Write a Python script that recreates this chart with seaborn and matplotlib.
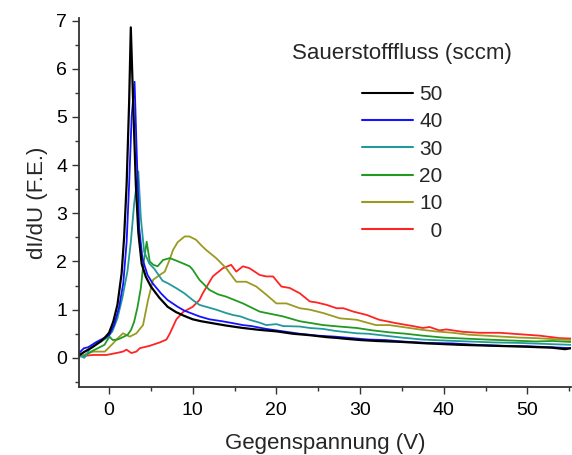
import numpy as np
import pandas as pd
import matplotlib
matplotlib.use("Agg")
import matplotlib.pyplot as plt
import seaborn as sns

# Differential current curves dI/dU versus retarding voltage for each oxygen flow
flows = ["50", "40", "30", "20", "10", "0"]
flow_labels = ["50", "40", "30", "20", "10", "  0"]
colors = ["#000000", "#1414ff", "#229a9a", "#229a22", "#9a9a22", "#ff2424"]

u_50 = [-3.6, -3.0, -2.0, -1.0, -0.5, 0.0, 0.5, 1.0, 1.5, 1.8, 2.1, 2.4, 2.6, 2.9, 3.2, 3.5, 3.9,
        4.4, 5.0, 6.0, 7.0, 8.0, 9.0, 10.0, 11.0, 12.0, 13.0, 14.0, 16.0, 18.0, 20.0, 22.0, 24.0,
        26.0, 27.5, 28.0, 30.0, 32.0, 35.0, 38.0, 42.0, 46.0, 50.0, 53.0, 54.5, 55.2]
i_50 = [0.05, 0.12, 0.22, 0.34, 0.42, 0.52, 0.75, 1.1, 1.75, 2.5, 3.6, 5.3, 6.86, 5.2, 3.6, 2.6, 1.95,
        1.68, 1.48, 1.25, 1.06, 0.95, 0.87, 0.8, 0.76, 0.73, 0.7, 0.67, 0.62, 0.58, 0.55, 0.5, 0.47,
        0.43, 0.41, 0.4, 0.37, 0.35, 0.33, 0.3, 0.27, 0.25, 0.23, 0.21, 0.18, 0.2]

u_40 = [-3.6, -3.0, -2.5, -1.5, -0.5, 0.0, 0.6, 1.2, 1.7, 2.1, 2.4, 2.7, 3.05, 3.3, 3.6, 4.0,
        4.6, 5.2, 6.2, 7.0, 8.2, 9.0, 10.8, 12.0, 13.5, 14.8, 16.0, 17.0, 18.8, 20.0, 22.8, 25.0,
        27.0, 29.0, 31.0, 33.0, 35.0, 38.0, 41.0, 44.0, 47.0, 50.0, 53.0, 55.2]
i_40 = [0.1, 0.2, 0.22, 0.33, 0.42, 0.47, 0.68, 1.05, 1.55, 2.4, 3.6, 5.0, 5.73, 4.3, 2.7, 2.05,
        1.72, 1.55, 1.34, 1.2, 1.06, 0.98, 0.86, 0.8, 0.76, 0.72, 0.68, 0.66, 0.6, 0.57, 0.5, 0.46,
        0.44, 0.41, 0.38, 0.37, 0.34, 0.31, 0.3, 0.27, 0.25, 0.24, 0.22, 0.2]

u_30 = [-3.6, -2.95, -2.35, -1.75, -0.95, -0.2, 0.4, 1.0, 1.6, 2.2, 2.6, 3.0, 3.5, 3.8, 4.2,
        4.8, 5.4, 6.4, 7.0, 8.0, 9.0, 10.0, 10.8, 12.0, 12.8, 14.0, 14.8, 15.7, 16.8, 18.0, 18.8,
        20.0, 20.8, 22.8, 24.0, 25.6, 27.0, 29.6, 31.0, 33.5, 35.0, 37.5, 40.0, 43.0, 46.0, 49.0,
        52.0, 55.2]
i_30 = [0.06, 0.0, 0.17, 0.3, 0.34, 0.42, 0.55, 0.82, 1.25, 1.8, 2.4, 3.2, 3.87, 2.9, 2.2,
        1.96, 1.85, 1.6, 1.55, 1.45, 1.34, 1.2, 1.1, 1.04, 1.0, 0.93, 0.89, 0.86, 0.79, 0.73, 0.68,
        0.7, 0.66, 0.65, 0.62, 0.6, 0.56, 0.51, 0.5, 0.45, 0.42, 0.38, 0.36, 0.34, 0.32, 0.31,
        0.29, 0.27]

u_20 = [-3.6, -2.94, -2.15, -1.35, -0.55, 0.05, 0.44, 1.0, 1.43, 2.23, 2.63, 3.0, 3.4, 3.8,
        4.1, 4.5, 4.86, 5.3, 5.8, 6.45, 7.25, 8.0, 8.84, 9.64, 10.0, 10.8, 12.0, 13.0, 14.0,
        15.0, 16.0, 18.0, 20.8, 22.8, 25.6, 27.5, 29.6, 31.5, 33.5, 35.5, 37.5, 40.0, 42.5, 45.1,
        48.0, 51.0, 53.0, 55.2]
i_20 = [0.03, 0.03, 0.13, 0.2, 0.27, 0.44, 0.37, 0.38, 0.41, 0.48, 0.58, 0.75, 1.05, 1.45,
        1.95, 2.41, 2.0, 1.93, 1.9, 2.03, 2.07, 2.02, 1.96, 1.9, 1.83, 1.62, 1.41, 1.32, 1.27,
        1.2, 1.13, 0.96, 0.86, 0.76, 0.68, 0.65, 0.62, 0.57, 0.53, 0.5, 0.46, 0.42, 0.4, 0.38,
        0.36, 0.34, 0.35, 0.33]

u_10 = [-3.6, -1.9, -0.5, 0.48, 1.0, 1.67, 2.47, 3.27, 4.06, 4.66, 5.26, 6.06, 6.66, 7.2,
        7.65, 8.2, 9.04, 9.6, 10.4, 11.0, 11.6, 12.8, 14.0, 15.2, 16.4, 17.6, 18.8, 20.0, 21.2,
        22.8, 24.0, 25.6, 27.6, 29.6, 31.9, 33.5, 35.5, 37.5, 39.0, 41.1, 43.0, 45.1, 47.0, 49.1,
        51.0, 53.0, 55.2]
i_10 = [0.03, 0.13, 0.13, 0.3, 0.4, 0.51, 0.44, 0.51, 0.68, 1.2, 1.62, 1.72, 1.79, 2.02,
        2.24, 2.4, 2.52, 2.52, 2.45, 2.34, 2.24, 2.07, 1.86, 1.58, 1.58, 1.48, 1.31, 1.13, 1.13,
        1.03, 1.0, 0.93, 0.82, 0.79, 0.68, 0.68, 0.63, 0.58, 0.55, 0.52, 0.48, 0.46, 0.44, 0.42,
        0.41, 0.39, 0.37]

u_0 = [-3.6, -1.9, -0.3, 0.88, 1.67, 2.08, 2.67, 3.27, 3.67, 4.86, 6.06, 6.86, 7.25, 7.65,
       8.05, 8.84, 10.0, 10.8, 11.2, 12.4, 13.6, 14.6, 15.2, 16.0, 16.8, 18.0, 18.8, 19.6, 20.6,
       21.6, 22.8, 24.0, 24.8, 26.0, 27.2, 28.0, 29.2, 30.8, 32.3, 34.3, 36.3, 37.5, 38.3, 39.5,
       40.3, 42.3, 44.3, 46.7, 49.1, 51.5, 53.8, 55.2]
i_0 = [0.03, 0.06, 0.06, 0.1, 0.13, 0.17, 0.1, 0.13, 0.2, 0.25, 0.32, 0.38, 0.5, 0.65,
       0.8, 0.95, 1.06, 1.2, 1.34, 1.69, 1.86, 1.93, 1.79, 1.9, 1.86, 1.72, 1.69, 1.69, 1.48,
       1.45, 1.34, 1.17, 1.15, 1.1, 1.03, 1.03, 0.96, 0.89, 0.79, 0.72, 0.66, 0.62, 0.64, 0.57,
       0.59, 0.54, 0.52, 0.52, 0.49, 0.46, 0.41, 0.4]

series = {
    "50": (u_50, i_50), "40": (u_40, i_40), "30": (u_30, i_30),
    "20": (u_20, i_20), "10": (u_10, i_10), "0": (u_0, i_0),
}
frames = []
for flow in flows:
    u, i = series[flow]
    frames.append(pd.DataFrame({"U": u, "dIdU": i, "flow": flow}))
df = pd.concat(frames, ignore_index=True)

sns.set_theme(style="ticks")
plt.rcParams["font.family"] = ["Liberation Sans", "DejaVu Sans"]

fig = plt.figure(figsize=(5.72, 4.55), dpi=100)
ax = fig.add_axes([0.138, 0.15, 0.860, 0.81])

# draw reverse order so the black curve sits on top
sns.lineplot(data=df, x="U", y="dIdU", hue="flow", hue_order=flows[::-1],
             palette=dict(zip(flows, colors)), sort=False, estimator=None,
             linewidth=1.3, ax=ax, legend=False)
for line in ax.get_lines():
    if line.get_color() in ("#000000", (0.0, 0.0, 0.0, 1.0)):
        line.set_linewidth(1.6)

ax.set_xlim(-3.6, 55.2)
ax.set_ylim(-0.6, 7.05)
ax.set_xticks([0, 10, 20, 30, 40, 50])
ax.set_xticks(np.arange(-0, 56, 5), minor=True)
ax.set_yticks(range(0, 8))
ax.set_yticks(np.arange(-0.5, 7.01, 0.5), minor=True)
ax.tick_params(axis="x", which="major", pad=6)
ax.tick_params(axis="both", which="major", direction="out", length=5, width=1.0,
               labelsize=14, color="#333333", labelcolor="black")
ax.tick_params(axis="both", which="minor", direction="out", length=3, width=1.0,
               color="#333333")
for side in ("top", "right"):
    ax.spines[side].set_visible(False)
for side in ("left", "bottom"):
    ax.spines[side].set_linewidth(1.3)
    ax.spines[side].set_color("#333333")

ax.set_xlabel("Gegenspannung (V)", fontsize=16, labelpad=10)
ax.set_ylabel("dI/dU (F.E.)", fontsize=16, labelpad=6)

# legend: title as separate text, then line entries
fig.text(402 / 572, 1 - 53 / 455, "Sauerstofffluss (sccm)", fontsize=16,
         ha="center", va="center")
handles = [plt.Line2D([], [], color=c, linewidth=1.5) for c in colors]
leg = fig.legend(handles, flow_labels, loc="upper left",
                 bbox_to_anchor=(362 / 572, 1 - 85 / 455), frameon=False,
                 fontsize=15, handlelength=2.45, handletextpad=0.3,
                 labelspacing=0.4, borderpad=0, borderaxespad=0)

fig.savefig("out.png", dpi=100)
